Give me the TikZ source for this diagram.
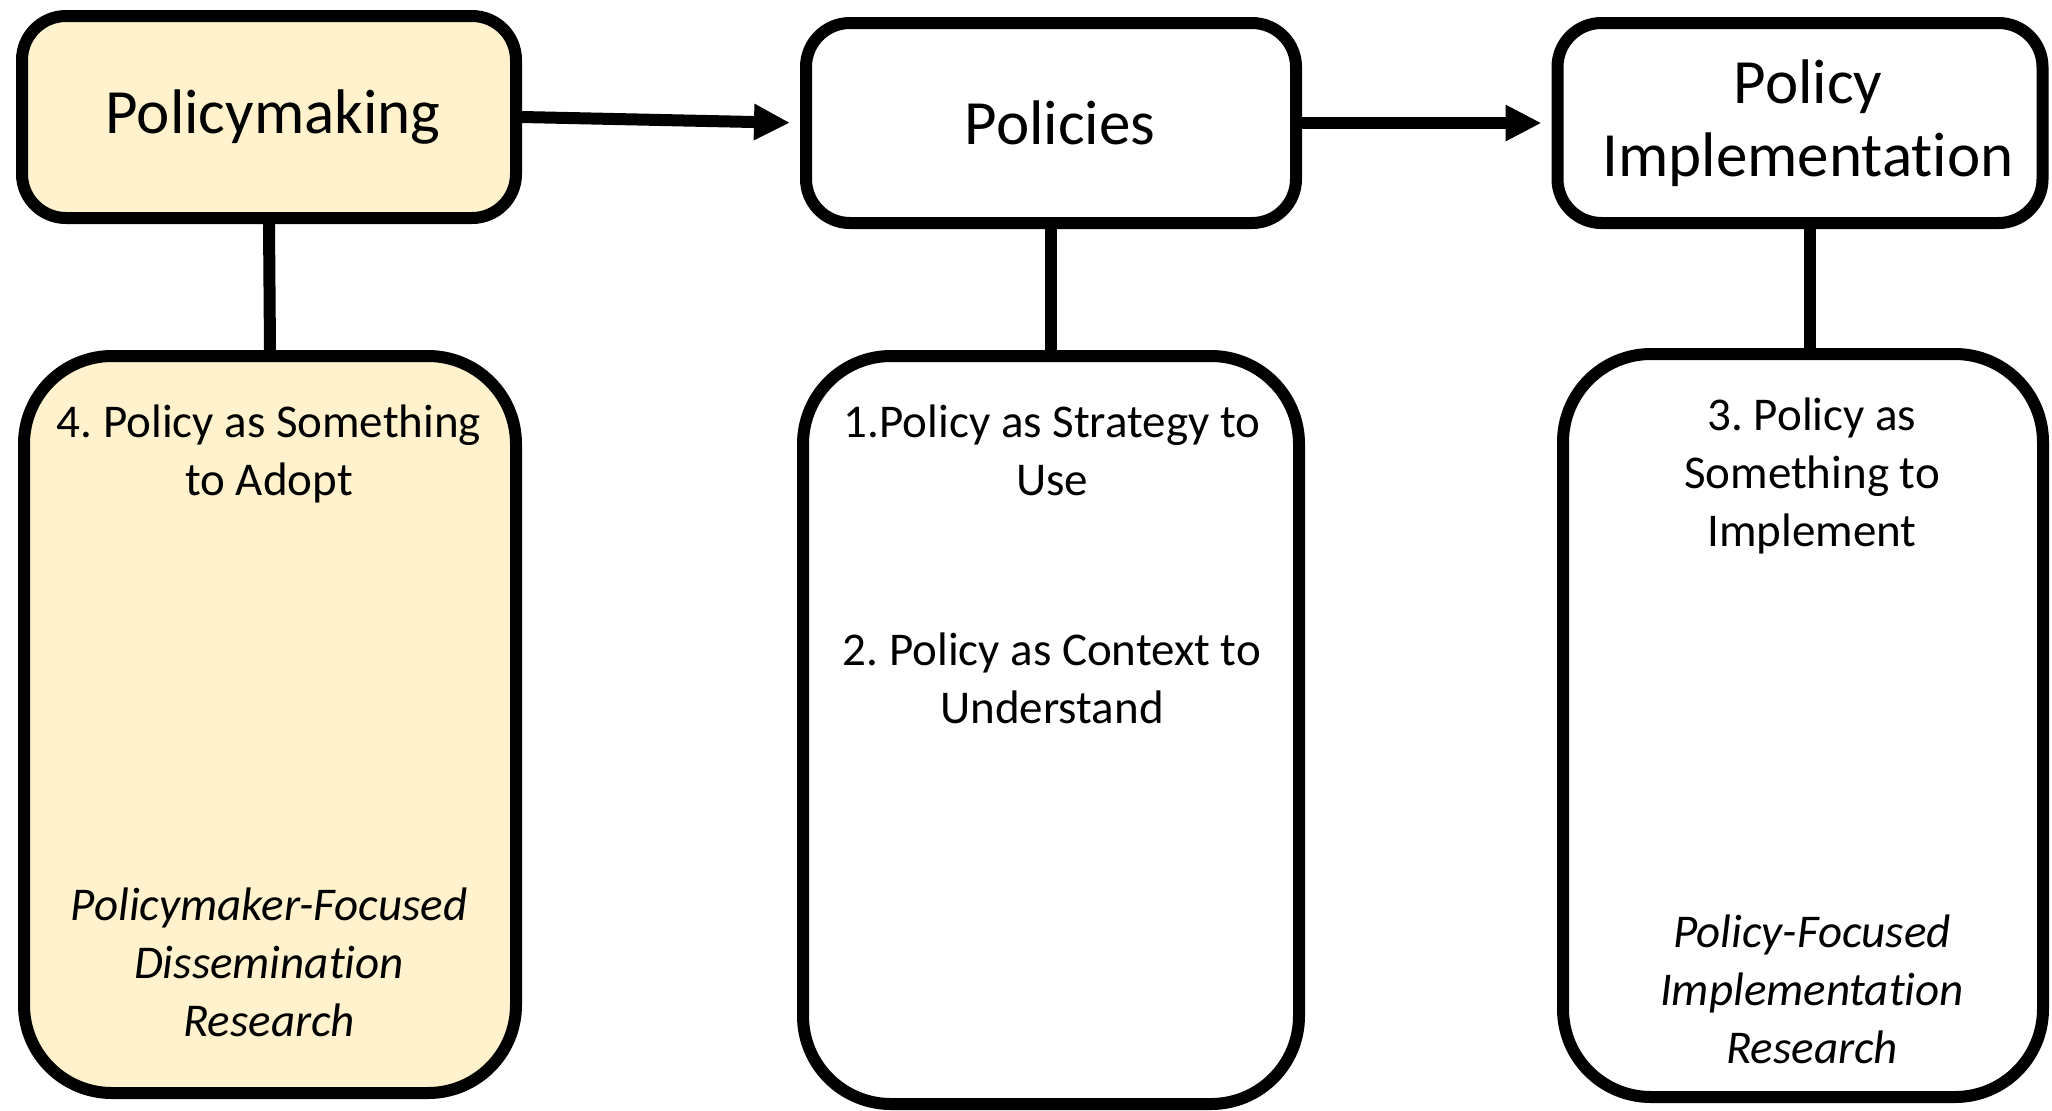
\documentclass[tikz,border=0pt]{standalone}
\usepackage{fontspec}
\setmainfont{Carlito}[Ligatures=NoCommon]
\usetikzlibrary{arrows.meta}
\definecolor{adoptfill}{HTML}{FFF2CC}
\frenchspacing
\tikzset{
  topbox/.style={draw, line width=6pt, rounded corners=22pt, inner sep=0pt, align=center,
    font=\fontsize{31.5}{36.5}\selectfont},
  colbox/.style={draw, line width=6pt, rounded corners=44pt, inner sep=0pt},
  coltext/.style={anchor=north, inner sep=0pt, align=center, font=\fontsize{23.5}{29}\selectfont},
  link/.style={line width=6pt},
  flow/.style={line width=6pt, shorten >=5pt, -{Triangle[length=18pt,width=17pt]}}
}
\begin{document}
\begin{tikzpicture}[x=0.5pt,y=-0.5pt]
    \useasboundingbox (0,0) rectangle (2052,1110);
    % top row
    \node[topbox, fill=adoptfill, minimum width=247pt, minimum height=101pt] (making) at (269,117) {\hspace*{4pt}Policymaking};
    \node[topbox, minimum width=245pt, minimum height=100pt] (policies) at (1051,123) {\hspace*{9pt}Policies};
    \node[topbox, minimum width=242.5pt, minimum height=100pt] (impl) at (1800,123) {\hspace*{8pt}Policy\\\hspace*{8pt}Implementation};
    \draw[flow] (making.east) -- (policies.west);
    \draw[flow] (policies.east) -- (impl.west);
    % columns
    \node[colbox, fill=adoptfill, minimum width=246pt, minimum height=368.5pt] (adoptcol) at (270,724.5) {};
    \node[colbox, minimum width=248pt, minimum height=374pt] (usecol) at (1051,730) {};
    \node[colbox, minimum width=240pt, minimum height=371.5pt] (implcol) at (1803,725.5) {};
    \draw[link] (making.south) -- (adoptcol.north);
    \draw[link] (policies.south) -- (usecol.north);
    \draw[link] ([xshift=3.5pt]implcol.north) -- ([xshift=3.5pt]implcol.north |- impl.south);
    % column texts
    \node[coltext] (adopt) at (269,404) {4. Policy as Something\\to Adopt};
    \node[coltext, font=\fontsize{23.5}{29}\selectfont\itshape] (dissem) at (269,887) {Policymaker-Focused\\Dissemination\\Research};
    \node[coltext] (strategy) at (1052,404) {1.Policy as Strategy to\\Use};
    \node[coltext] (context) at (1052,632) {2. Policy as Context to\\Understand};
    \node[coltext] (implement) at (1812,397) {3. Policy as\\Something to\\Implement};
    \node[coltext, font=\fontsize{23.5}{29}\selectfont\itshape] (implres) at (1812,914) {Policy-Focused\\Implementation\\Research};
\end{tikzpicture}
\end{document}
